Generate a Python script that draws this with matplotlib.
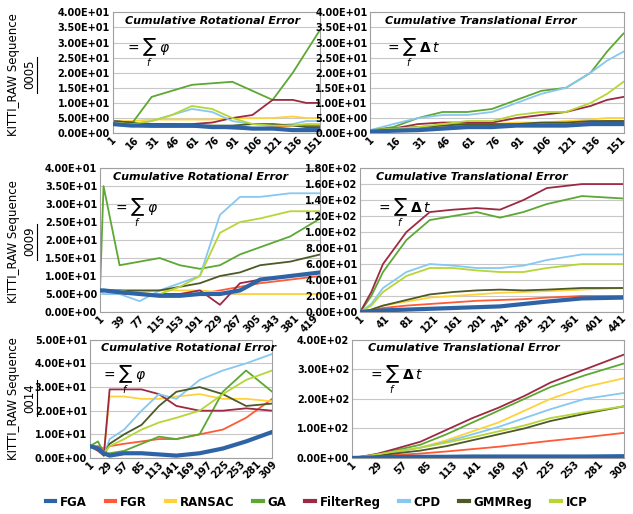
import numpy as np
import matplotlib.pyplot as plt
from matplotlib.ticker import FuncFormatter

names = ['FGA', 'FGR', 'RANSAC', 'GA', 'FilterReg', 'CPD', 'GMMReg', 'ICP']
colors = ['#2e64a6', '#ff5a36', '#ffd23c', '#5ca833', '#9c2a42', '#86c8f2', '#4b5a26', '#b6d636']

# --- sequence 0005 ---
x05 = [1, 15, 30, 45, 60, 75, 90, 105, 120, 135, 145, 155]
rot05 = [
    [3, 2.5, 2.5, 2.5, 2.5, 2, 2, 1.5, 1.5, 1, 1, 1],
    [3, 2.5, 2, 2, 2, 2, 1.5, 1.5, 2, 2.5, 2.5, 2.5],
    [4, 4, 4.5, 4.5, 4.5, 4.5, 5, 5, 5, 5.5, 5, 5],
    [3, 3, 12, 14, 16, 16.5, 17, 14, 11, 20, 27, 34],
    [4, 3.5, 3, 3, 3, 3.5, 5, 6, 11, 11, 10, 10],
    [4, 3, 4, 6, 8, 7, 4, 3, 2.5, 3, 4, 4],
    [4, 3.5, 3, 3, 2.5, 2.5, 2.5, 3, 3, 2.5, 2, 2],
    [3.5, 3, 4, 6, 9, 8, 5, 3, 2.5, 2.5, 3, 3],
]
tra05 = [
    [0.5, 0.8, 1, 1.5, 2, 2, 2.5, 2.5, 2.5, 3, 3, 3],
    [1, 1, 1.5, 2, 2.5, 2.5, 3, 3, 3, 3.5, 4, 4],
    [1, 1.5, 2, 2.5, 3, 3, 3.5, 3.5, 4, 4.5, 5, 5],
    [1, 2, 5, 7, 7, 8, 11, 14, 15, 20, 27, 33],
    [1, 1.5, 3, 3.5, 3.5, 3.5, 5, 6, 7, 9, 11, 12],
    [1, 3, 5, 6, 6, 7, 10, 13, 15, 20, 24, 27],
    [1, 1.5, 2, 2.5, 3, 3, 3, 3.5, 3.5, 4, 4, 4],
    [1, 1.5, 2, 3, 4, 4, 6, 7, 7, 10, 13, 17],
]
# --- sequence 0009 ---
x09r = [1, 8, 40, 80, 120, 160, 200, 240, 280, 320, 380, 440]
rot09 = [
    [6, 6, 5.5, 5, 4.5, 4.5, 5, 5, 6, 9, 10, 11],
    [6, 6, 5, 5, 5, 5, 5, 6, 7, 8, 9, 10],
    [6, 6, 6, 5.5, 6, 6, 6, 5.5, 5, 5, 5, 5],
    [6, 35, 13, 14, 15, 13, 12, 13, 16, 18, 21, 26],
    [6, 6, 6, 5, 5, 5, 6, 2, 8, 9, 10, 11],
    [6, 5, 5, 3, 6, 8, 10, 27, 32, 32, 33, 33],
    [6, 6, 6, 6, 6, 7, 8, 10, 11, 13, 14, 16],
    [6, 6, 6, 5, 5, 7, 10, 22, 25, 26, 28, 28],
]
x09t = [1, 20, 40, 80, 120, 160, 200, 240, 280, 320, 380, 450]
tra09 = [
    [0, 1, 2, 3, 4, 5, 6, 7, 10, 13, 17, 18],
    [0, 2, 5, 8, 10, 12, 14, 15, 16, 18, 20, 20],
    [0, 3, 8, 13, 18, 20, 22, 24, 25, 26, 28, 30],
    [0, 20, 50, 90, 115, 120, 125, 118, 125, 135, 145, 142],
    [0, 25, 60, 100, 125, 128, 130, 128, 140, 155, 160, 160],
    [0, 10, 30, 50, 60, 58, 55, 55, 58, 65, 72, 72],
    [0, 3, 8, 15, 22, 25, 27, 28, 27, 28, 30, 30],
    [0, 8, 25, 45, 55, 55, 52, 50, 50, 55, 60, 60],
]
# --- sequence 0014 ---
x14r = [1, 15, 25, 35, 60, 90, 120, 150, 190, 230, 270, 315]
rot14 = [
    [5, 4, 2, 1, 2, 2, 1.5, 1, 2, 4, 7, 11],
    [5, 5, 4, 5, 6, 7, 8, 8, 10, 12, 17, 25],
    [5, 4, 2, 26, 26, 25, 25, 26, 27, 25, 25, 24],
    [5, 7, 2, 2, 3, 6, 9, 8, 10, 28, 37, 28],
    [5, 3, 1, 29, 29, 29, 27, 22, 20, 20, 21, 20],
    [5, 4, 1, 8, 12, 20, 27, 25, 33, 37, 40, 44],
    [5, 4, 1, 6, 10, 14, 22, 28, 30, 27, 22, 23],
    [5, 4, 2, 5, 8, 12, 15, 17, 20, 27, 33, 37],
]
x14t = [1, 15, 30, 50, 80, 110, 140, 170, 200, 230, 270, 315]
tra14 = [
    [0, 1, 2, 3, 4, 4, 5, 5, 5, 5, 5, 6],
    [0, 3, 6, 10, 15, 22, 30, 38, 48, 58, 70, 85],
    [0, 5, 10, 20, 35, 60, 90, 120, 160, 200, 240, 270],
    [0, 5, 12, 25, 45, 80, 120, 160, 200, 240, 280, 320],
    [0, 6, 14, 30, 55, 95, 135, 170, 210, 255, 300, 350],
    [0, 5, 10, 20, 35, 55, 80, 105, 135, 165, 200, 220],
    [0, 4, 8, 15, 25, 40, 60, 80, 100, 125, 150, 175],
    [0, 5, 12, 22, 35, 52, 70, 90, 110, 135, 155, 175],
]

panels = [
    # rect, x, data, xmax, xtick step, ymax, ystep, rotational?
    ([0.178, 0.741, 0.327, 0.235], x05, rot05, 155, 15, 40, 5, True),
    ([0.585, 0.741, 0.400, 0.235], x05, tra05, 155, 15, 40, 5, False),
    ([0.158, 0.393, 0.348, 0.280], x09r, rot09, 440, 38, 40, 5, True),
    ([0.569, 0.393, 0.415, 0.280], x09t, tra09, 450, 40, 180, 20, False),
    ([0.142, 0.109, 0.288, 0.230], x14r, rot14, 315, 28, 50, 10, True),
    ([0.556, 0.109, 0.430, 0.230], x14t, tra14, 315, 28, 400, 100, False),
]

fig = plt.figure(figsize=(6.33, 5.14), dpi=100)
fmt = FuncFormatter(lambda v, p: f'{v:.2E}')
for rect, xs, data, xmax, step, ymax, ystep, isrot in panels:
    ax = fig.add_axes(rect)
    for i, ys in enumerate(data):
        lw = 3 if i == 0 else 1.3
        ax.plot(xs, ys, color=colors[i], lw=lw, zorder=3 if i == 0 else 2)
    ax.set_xlim(1, xmax)
    ax.set_ylim(0, ymax)
    ax.set_yticks(np.arange(0, ymax + 0.1, ystep))
    ax.yaxis.set_major_formatter(fmt)
    ax.set_xticks(np.arange(1, xmax + 1, step))
    ax.tick_params(axis='x', labelrotation=45, labelsize=7, length=0, pad=1)
    ax.tick_params(axis='y', labelsize=7, length=0, pad=2)
    for lab in ax.get_xticklabels() + ax.get_yticklabels():
        lab.set_fontweight('bold')
    ax.grid(axis='y', color='#c8c8c8', lw=0.8)
    for s in ax.spines.values():
        s.set_color('#a0a0a0')
    title = 'Cumulative Rotational Error' if isrot else 'Cumulative Translational Error'
    ax.text(0.06, 0.97, title, transform=ax.transAxes, fontsize=8, style='italic',
            fontweight='bold', va='top')
    form = r'$=\sum_f\ \varphi$' if isrot else r'$=\sum_f\ \mathbf{\Delta}\, t$'
    ax.text(0.06, 0.80, form, transform=ax.transAxes, fontsize=10, va='top')

for yc, seq in [(0.855, '0005'), (0.53, '0009'), (0.225, '0014')]:
    fig.text(0.022, yc, 'KITTI_RAW Sequence', rotation=90, ha='center', va='center', fontsize=8.5)
    fig.text(0.047, yc, seq, rotation=90, ha='center', va='center', fontsize=8.5)
    fig.add_artist(plt.Line2D([0.059, 0.059], [yc - 0.035, yc + 0.035], color='black', lw=0.8))

handles = [plt.Line2D([], [], color=c, lw=3) for c in colors]
leg = fig.legend(handles, names, loc='lower center', ncol=8, frameon=False,
                 bbox_to_anchor=(0.5, -0.01), handlelength=0.8, columnspacing=1.6,
                 handletextpad=0.4, prop={'size': 8.5, 'weight': 'bold'})
fig.savefig('out.png', dpi=100)
